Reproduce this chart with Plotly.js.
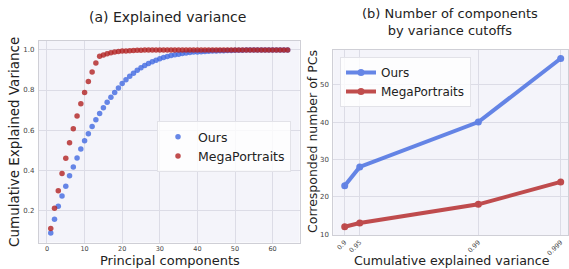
<!DOCTYPE html>
<html><head><meta charset="utf-8">
<script src="https://cdn.plot.ly/plotly-3.0.1.min.js"></script>
<style>html,body{margin:0;padding:0;background:#fff}#chart{width:569px;height:269px}</style>
</head><body><div id="chart"></div>
<script>
// ---- data ----
const components = [1,2,3,4,5,6,7,8,9,10,11,12,13,14,15,16,17,18,19,20,21,22,23,24,25,26,27,28,29,30,31,32,
  33,34,35,36,37,38,39,40,41,42,43,44,45,46,47,48,49,50,51,52,53,54,55,56,57,58,59,60,61,62,63,64];
const oursCumVar = [0.086,0.155,0.220,0.271,0.320,0.372,0.416,0.461,0.506,0.547,0.582,0.618,0.652,0.683,0.711,0.739,
  0.764,0.787,0.810,0.832,0.851,0.868,0.884,0.898,0.911,0.922,0.932,0.941,0.949,0.956,0.962,0.967,
  0.972,0.976,0.979,0.982,0.985,0.987,0.989,0.990,0.991,0.992,0.993,0.994,0.995,0.996,0.996,0.997,
  0.997,0.998,0.998,0.998,0.999,0.999,0.999,0.999,0.999,1.0,1.0,1.0,1.0,1.0,1.0,1.0];
const megaCumVar = [0.109,0.210,0.297,0.383,0.460,0.537,0.607,0.670,0.731,0.787,0.842,0.890,0.935,0.968,0.975,0.981,
  0.986,0.989,0.992,0.994,0.995,0.996,0.997,0.998,0.998,0.999,0.999,0.999,1.0,1.0,1.0,1.0,
  1.0,1.0,1.0,1.0,1.0,1.0,1.0,1.0,1.0,1.0,1.0,1.0,1.0,1.0,1.0,1.0,
  1.0,1.0,1.0,1.0,1.0,1.0,1.0,1.0,1.0,1.0,1.0,1.0,1.0,1.0,1.0,1.0];
const cutoffs = [0.9, 0.95, 0.99, 0.999];
const cutoffLabels = ['0.9', '0.95', '0.99', '0.999'];
const oursPCs = [23, 28, 40, 57];
const megaPCs = [12, 13, 18, 24];
const seriesNames = ['Ours', 'MegaPortraits'];

// ---- styling ----
const W = 569, H = 269;
const FONT = 'DejaVu Sans, Liberation Sans, sans-serif';
const BLUE = 'royalblue', RED = 'firebrick';
const px = v => v / W, py = v => 1 - v / H;

// stretched x scale for the cutoff axis
const warp = c => Math.exp(53 * (c - 0.9));
const cutX = cutoffs.map(warp);
const tMin = Math.min(...cutX), tMax = Math.max(...cutX);
const span = tMax - tMin;

const traces = [
  {x: components, y: oursCumVar, name: seriesNames[0], type: 'scatter', mode: 'markers',
   marker: {color: BLUE, size: 5.5, opacity: 0.8}, xaxis: 'x', yaxis: 'y', legend: 'legend'},
  {x: components, y: megaCumVar, name: seriesNames[1], type: 'scatter', mode: 'markers',
   marker: {color: RED, size: 5.5, opacity: 0.8}, xaxis: 'x', yaxis: 'y', legend: 'legend'},
  {x: cutX, y: oursPCs, name: seriesNames[0], type: 'scatter', mode: 'lines+markers', opacity: 0.8,
   line: {color: BLUE, width: 4}, marker: {color: BLUE, size: 7}, xaxis: 'x2', yaxis: 'y2', legend: 'legend2'},
  {x: cutX, y: megaPCs, name: seriesNames[1], type: 'scatter', mode: 'lines+markers', opacity: 0.8,
   line: {color: RED, width: 4}, marker: {color: RED, size: 7}, xaxis: 'x2', yaxis: 'y2', legend: 'legend2'}
];

const axBase = {
  showline: true, mirror: true, linecolor: '#cfcfd6', linewidth: 1,
  gridcolor: '#dcdce6', gridwidth: 1, zeroline: false,
  ticks: '', ticklabelstandoff: 0,
  tickfont: {family: FONT, size: 7, color: '#444'}
};

const layout = {
  width: W, height: H,
  margin: {l: 0, r: 0, t: 0, b: 0},
  paper_bgcolor: '#ffffff', plot_bgcolor: '#f4f4fa',
  font: {family: FONT, color: '#222'},
  showlegend: true,
  xaxis: Object.assign({}, axBase, {domain: [px(38.9), px(299.5)], range: [-2.15, 67.15],
    tickvals: [0, 10, 20, 30, 40, 50, 60], anchor: 'y', tickfont: {family: FONT, size: 6.5, color: '#444'}}),
  yaxis: Object.assign({}, axBase, {domain: [py(242.5), py(40.7)], range: [0.039, 1.046],
    tickvals: [0.2, 0.4, 0.6, 0.8, 1.0], ticktext: ['0.2', '0.4', '0.6', '0.8', '1.0'], anchor: 'x',
    ticklabelstandoff: 2}),
  xaxis2: Object.assign({}, axBase, {domain: [px(333.3), px(568)],
    range: [tMin - 0.0528 * span, tMax + 0.0338 * span],
    tickvals: cutX, ticktext: cutoffLabels, tickangle: -45, anchor: 'y2',
    tickfont: {family: FONT, size: 6.5, color: '#444'}}),
  yaxis2: Object.assign({}, axBase, {domain: [py(235), py(50)], range: [9.8, 59.28],
    tickvals: [10, 20, 30, 40, 50], anchor: 'x2', ticklabelstandoff: 2}),
  legend: {x: px(157), y: py(121), xanchor: 'left', yanchor: 'top',
    bgcolor: 'rgba(255,255,255,0.8)', bordercolor: '#e2e2e8', borderwidth: 1,
    font: {family: FONT, size: 12.5, color: '#222'}, itemsizing: 'trace'},
  legend2: {x: px(340), y: py(57), xanchor: 'left', yanchor: 'top',
    bgcolor: 'rgba(255,255,255,0.8)', bordercolor: '#e2e2e8', borderwidth: 1,
    font: {family: FONT, size: 12, color: '#222'}},
  annotations: [
    {text: '(a) Explained variance', x: px(167), y: py(17), xref: 'paper', yref: 'paper',
     showarrow: false, xanchor: 'center', yanchor: 'middle', font: {family: FONT, size: 14, color: '#222'}},
    {text: '(b) Number of components<br>by variance cutoffs', x: px(450), y: py(22), xref: 'paper', yref: 'paper',
     showarrow: false, xanchor: 'center', yanchor: 'middle', font: {family: FONT, size: 13, color: '#222'}},
    {text: 'Principal components', x: px(170), y: 0, xref: 'paper', yref: 'paper', borderpad: 0,
     showarrow: false, xanchor: 'center', yanchor: 'bottom', font: {family: FONT, size: 13, color: '#222'}},
    {text: 'Cumulative Explained Variance', x: px(14), y: py(142), xref: 'paper', yref: 'paper', textangle: -90,
     showarrow: false, xanchor: 'center', yanchor: 'middle', font: {family: FONT, size: 13.5, color: '#222'}},
    {text: 'Cumulative explained variance', x: px(452), y: 0, xref: 'paper', yref: 'paper', borderpad: 0,
     showarrow: false, xanchor: 'center', yanchor: 'bottom', font: {family: FONT, size: 12.6, color: '#222'}},
    {text: 'Corresponded number of PCs', x: px(312), y: py(142), xref: 'paper', yref: 'paper', textangle: -90,
     showarrow: false, xanchor: 'center', yanchor: 'middle', font: {family: FONT, size: 12.5, color: '#222'}}
  ]
};

Plotly.newPlot('chart', traces, layout, {displayModeBar: false, staticPlot: true});
</script>
</body></html>
